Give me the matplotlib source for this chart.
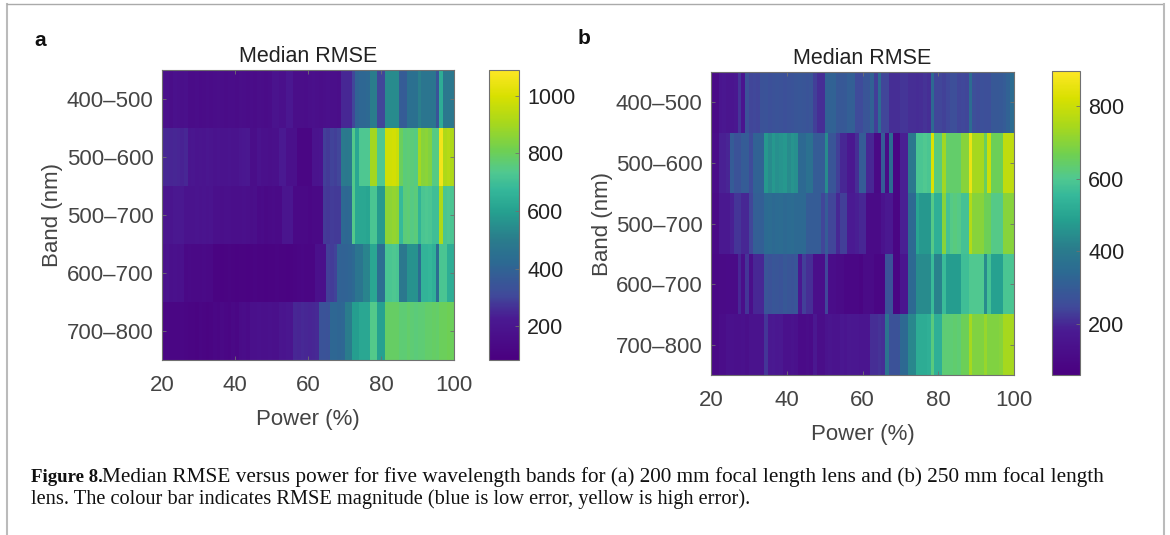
import matplotlib
matplotlib.use("Agg")
import matplotlib.pyplot as plt
from matplotlib.colors import LinearSegmentedColormap
import numpy as np

power_edges = np.linspace(20, 100, 81)
bands = ["400\u2013500", "500\u2013600", "500\u2013700", "600\u2013700", "700\u2013800"]
power_ticks = [20, 40, 60, 80, 100]

a_400_500 = [170,170,160,180,170,165,175,150,150,155,
             145,150,155,150,155,160,155,150,155,155,
             150,160,155,150,155,150,160,155,150,155,
             190,190,170,170,210,210,160,160,160,155,
             165,170,165,160,165,170,165,165,160,250,
             250,250,300,400,410,410,420,500,500,300,
             300,540,540,540,540,370,370,450,450,450,
             510,470,470,470,470,340,640,480,480,480]
a_500_600 = [250,250,245,250,245,240,250,200,205,195,
             200,195,205,200,190,195,185,190,195,190,
             190,205,210,215,160,160,190,170,175,165,
             170,175,220,220,170,170,175,120,115,115,
             115,190,190,195,290,280,295,290,300,490,
             480,490,740,620,730,730,730,900,900,730,
             730,980,980,990,970,800,760,770,760,750,
             900,850,860,840,750,750,1060,920,930,920]
a_500_700 = [200,200,200,215,215,215,190,190,185,195,
             190,195,190,195,170,175,165,170,175,165,
             165,165,170,165,160,165,140,145,135,140,
             145,140,140,200,200,205,130,130,135,130,
             125,130,135,130,280,275,285,280,280,420,
             410,420,740,620,620,620,610,720,720,580,
             580,860,860,870,860,680,760,770,750,760,
             660,720,730,720,700,700,920,720,730,720]
a_600_700 = [180,185,175,180,175,180,135,140,135,130,
             135,140,130,135,105,105,100,105,110,105,
             100,105,105,100,105,110,105,105,100,105,
             105,110,105,105,100,105,110,120,125,120,
             115,120,170,175,170,290,285,295,400,395,
             400,405,420,470,470,520,520,620,620,440,
             440,720,720,730,720,480,480,560,560,560,
             430,660,660,670,650,430,720,720,640,640]
a_700_800 = [120,125,120,115,120,125,115,110,110,105,
             115,110,105,110,125,120,130,125,120,130,
             125,150,155,145,175,170,180,175,170,180,
             175,170,200,195,205,200,250,245,255,250,
             245,250,255,340,340,335,410,410,405,410,
             500,500,590,590,620,620,620,740,740,600,
             600,790,790,790,790,770,770,780,770,760,
             770,770,780,780,790,780,800,800,810,800]

b_400_500 = [110,110,160,165,155,160,165,220,160,270,
             240,245,240,270,275,265,270,275,270,265,
             270,275,280,285,280,275,280,230,210,210,
             320,320,320,290,290,295,310,310,250,250,
             280,280,320,230,350,240,240,210,210,210,
             220,220,210,210,205,210,215,210,340,240,
             240,235,245,260,260,240,245,240,350,260,
             255,265,260,260,290,290,295,300,320,350]
b_500_600 = [120,120,190,190,195,300,270,270,300,300,
             250,320,320,320,470,440,470,450,460,470,
             440,460,450,340,340,370,370,300,300,300,
             440,280,280,230,200,200,170,170,210,300,
             300,200,200,100,100,300,110,350,90,90,
             190,190,390,390,590,590,600,590,830,620,
             620,730,640,640,640,640,700,700,860,740,
             740,740,650,800,660,660,660,780,780,780]
b_500_700 = [110,110,170,170,170,190,220,220,200,200,
             240,310,310,310,345,350,340,345,350,340,
             345,350,340,340,340,300,300,300,300,240,
             300,240,240,200,230,230,180,180,185,200,
             200,110,110,110,110,150,170,170,90,90,
             190,190,340,340,500,470,470,470,610,530,
             530,700,580,610,620,610,580,580,760,700,
             700,700,660,660,610,610,610,700,700,700]
b_600_700 = [100,100,110,110,115,110,110,200,130,220,
             130,200,200,200,280,270,285,280,275,290,
             280,275,285,170,230,210,210,130,130,130,
             240,120,120,110,110,95,95,95,95,85,
             110,110,110,90,90,90,270,270,90,90,
             160,160,340,340,440,440,440,440,560,420,
             420,560,480,480,480,480,570,570,600,600,
             600,600,440,580,490,490,490,590,590,590]
b_700_800 = [100,100,120,120,140,140,135,135,140,130,
             150,145,150,150,220,170,175,165,170,140,
             140,145,140,115,115,120,115,170,125,125,
             150,155,150,150,165,160,170,165,165,160,
             160,160,210,210,215,210,380,270,270,270,
             340,340,430,430,520,520,520,530,620,530,
             530,630,630,630,635,630,660,660,740,690,
             690,690,720,690,690,690,700,740,740,740]

a_rows = [a_400_500, a_500_600, a_500_700, a_600_700, a_700_800]
b_rows = [b_400_500, b_500_600, b_500_700, b_600_700, b_700_800]

cmap = LinearSegmentedColormap.from_list("fig8", [
    (0.0, "#4a0080"), (0.143, "#4a1a92"), (0.223, "#404a9a"), (0.338, "#2c6a92"),
    (0.418, "#2a7d8c"), (0.51, "#25a08f"), (0.59, "#35b89a"), (0.647, "#50c890"),
    (0.727, "#70d050"), (0.819, "#a8d81c"), (0.911, "#d8e000"), (1.0, "#fde725")])

W, H = 1170, 535
plt.rcParams["font.family"] = ["Liberation Sans", "DejaVu Sans"]
fig = plt.figure(figsize=(W/100, H/100), dpi=100, facecolor="white")
TXT = "#444444"
DARK = "#222222"
EDGE = "#707070"

def rect(x0, y0, x1, y1):
    return [x0/W, 1-y1/H, (x1-x0)/W, (y1-y0)/H]

def panel(rows, box, cbox, vmin, vmax, cticks, letter, lpos, ylabelpad):
    ax = fig.add_axes(rect(*box))
    m = ax.pcolormesh(power_edges, np.arange(6), np.array(rows, float), cmap=cmap, vmin=vmin, vmax=vmax)
    ax.invert_yaxis()
    ax.set_xticks(power_ticks)
    ax.set_yticks(np.arange(5)+0.5, bands)
    ax.tick_params(axis="both", labelsize=16, labelcolor=TXT, color=EDGE, direction="in", length=3, width=0.6, top=True, right=True)
    ax.tick_params(axis="x", pad=11)
    ax.tick_params(axis="y", pad=6)
    ax.set_xlabel("Power (%)", fontsize=16, color=TXT, labelpad=9)
    ax.set_ylabel("Band (nm)", fontsize=16, color=TXT, labelpad=ylabelpad)
    ax.set_title("Median RMSE", fontsize=15.5, color=DARK, pad=6)
    for s in ax.spines.values():
        s.set_linewidth(0.8); s.set_color(EDGE)
    cax = fig.add_axes(rect(*cbox))
    cb = fig.colorbar(m, cax=cax)
    cb.set_ticks(cticks)
    cb.ax.tick_params(labelsize=15.5, labelcolor=DARK, color=EDGE, direction="in", length=3, width=0.6, pad=6)
    cb.outline.set_linewidth(0.8); cb.outline.set_edgecolor(EDGE)
    fig.text(lpos[0]/W, 1-lpos[1]/H, letter, fontsize=15, fontweight="bold", color="#111111", ha="left", va="center")

panel(a_rows, (162, 70, 454, 360), (489, 70, 519, 360), 82, 1090, [200,400,600,800,1000], "a", (34, 40), 3)
panel(b_rows, (711, 72, 1014, 375), (1052, 71, 1080, 375), 60, 896, [200,400,600,800], "b", (578, 39), 2)

fig.add_artist(plt.Line2D([7/W, 7/W], [0, 1-4/H], color="#bbbbbb", lw=1.5))
fig.add_artist(plt.Line2D([7/W, 1163/W], [1-4/H, 1-4/H], color="#aaaaaa", lw=1.0))
fig.add_artist(plt.Line2D([1163.5/W, 1163.5/W], [0, 1-4/H], color="#bbbbbb", lw=1.5))

serif = ["Liberation Serif", "DejaVu Serif"]
fig.text(31/W, 1-477/H, "Figure 8.", fontsize=13.6, fontweight="bold", family=serif, color="#111111", va="center")
fig.text(102/W, 1-477/H, "Median RMSE versus power for five wavelength bands for (a) 200 mm focal length lens and (b) 250 mm focal length", fontsize=15.3, family=serif, color="#111111", va="center")
fig.text(31/W, 1-499/H, "lens. The colour bar indicates RMSE magnitude (blue is low error, yellow is high error).", fontsize=14.7, family=serif, color="#111111", va="center")

fig.savefig("out.png", dpi=100)
